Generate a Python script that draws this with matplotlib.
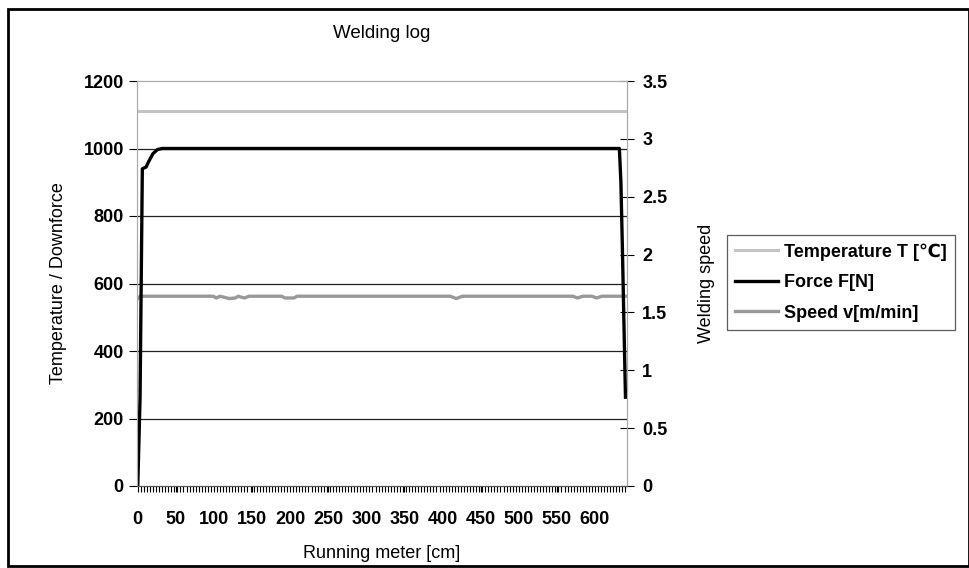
import matplotlib
matplotlib.use("Agg")
import matplotlib.pyplot as plt
from matplotlib.ticker import MultipleLocator
from matplotlib.patches import Rectangle

plt.rcParams['font.family'] = ['Liberation Sans', 'DejaVu Sans']

# data
temp_x = [0, 642]
temp_v = [1110, 1110]

force_x = [0, 3, 6, 11, 14, 20, 26, 32, 632, 634, 636, 638, 640]
force_v = [0, 260, 940, 945, 960, 985, 997, 1000, 1000, 900, 700, 480, 263]

speed_x = [0, 3, 99, 103, 108, 111, 120, 128, 132, 134, 140, 146, 189, 193,
           205, 209, 410, 418, 426, 571, 577, 584, 596, 602, 609, 640]
speed_v = [1.62, 1.64, 1.64, 1.625, 1.64, 1.635, 1.62, 1.625, 1.64, 1.635,
           1.625, 1.64, 1.64, 1.625, 1.625, 1.64, 1.64, 1.62, 1.64, 1.64,
           1.625, 1.64, 1.64, 1.625, 1.64, 1.64]

x_ticks = list(range(0, 601, 50))
left_ticks = [0, 200, 400, 600, 800, 1000, 1200]
right_ticks = [0, 0.5, 1, 1.5, 2, 2.5, 3, 3.5]

fig = plt.figure(figsize=(9.7, 5.68), dpi=100)
ax = fig.add_axes([137 / 970, 1 - 486 / 568, 490 / 970, 405 / 568])
ax2 = ax.twinx()

# speed axis behind so force line is on top
ax.set_zorder(ax2.get_zorder() + 1)
ax.patch.set_visible(False)
ax2.patch.set_facecolor('#eaeaee')

l_temp, = ax.plot(temp_x, temp_v, color='#c4c4c4', lw=2.2, label='Temperature T [℃]')
l_force, = ax.plot(force_x, force_v, color='black', lw=2.4, label='Force F[N]')
l_speed, = ax2.plot(speed_x, speed_v, color='#999999', lw=2.4, label='Speed v[m/min]')

ax.set_xlim(-1, 642)
ax.set_ylim(0, 1200)
ax2.set_ylim(0, 3.5)

ax.set_xticks(x_ticks)
ax.xaxis.set_minor_locator(MultipleLocator(4))
ax.set_yticks(left_ticks)
ax2.set_yticks(right_ticks)
ax2.set_yticklabels(['0', '0.5', '1', '1.5', '2', '2.5', '3', '3.5'])

for y in left_ticks[1:-1]:
    ax.axhline(y, color='#222222', lw=0.9, zorder=0.5)

ax.tick_params(axis='x', which='both', direction='out', length=4, width=0.8, labelsize=13, pad=14)
ax.tick_params(axis='y', direction='out', length=6, width=0.8, labelsize=13)
ax2.tick_params(axis='y', direction='inout', length=10, width=0.8, labelsize=13, pad=6)
for lab in ax.get_xticklabels() + ax.get_yticklabels() + ax2.get_yticklabels():
    lab.set_fontweight('bold')

for a in (ax, ax2):
    for side in ('top', 'left', 'right'):
        a.spines[side].set_color('#aaaaaa')
    a.spines['bottom'].set_color('#555555')

ax.set_title('Welding log', fontsize=13.5, pad=31)
ax.set_xlabel('Running meter [cm]', fontsize=13, labelpad=12)
ax.set_ylabel('Temperature / Downforce', fontsize=13, labelpad=12)
ax2.set_ylabel('Welding speed', fontsize=13, labelpad=22)

leg = fig.legend(handles=[l_temp, l_force, l_speed], loc='upper left',
                 bbox_to_anchor=(727 / 970, 1 - 235 / 568), borderaxespad=0,
                 prop={'size': 13, 'weight': 'bold'},
                 frameon=True, fancybox=False, handlelength=2.4,
                 borderpad=0.45, labelspacing=0.75, handletextpad=0.3)
leg.get_frame().set_edgecolor('#333333')
leg.get_frame().set_linewidth(0.9)

# outer frame
fig.patches.append(Rectangle((8 / 970, 1 - 566 / 568), 961 / 970, 557 / 568,
                             transform=fig.transFigure, fill=False,
                             edgecolor='black', lw=2))

fig.savefig('out.png', dpi=100)
